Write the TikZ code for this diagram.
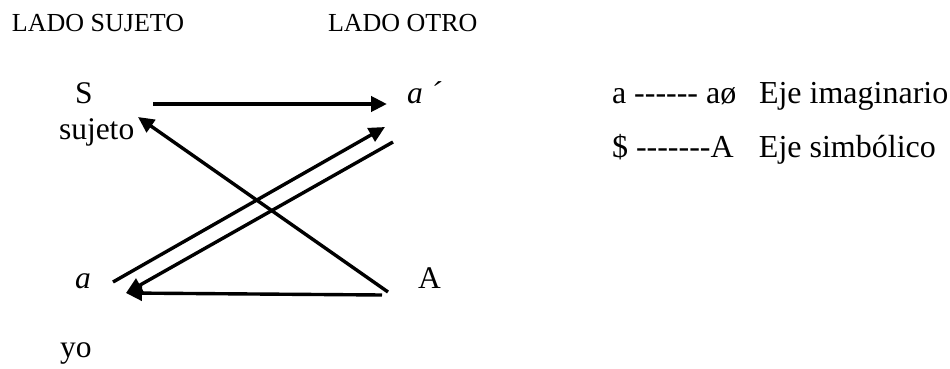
\documentclass[tikz,border=0pt]{standalone}
\usepackage{fontspec}
\setmainfont{Liberation Serif}
\usetikzlibrary{arrows.meta}
\tikzset{
  lbl/.style={anchor=base west, inner sep=0pt, outer sep=0pt, font=\fontsize{31.5}{36}\selectfont},
  hdr/.style={anchor=base west, inner sep=0pt, outer sep=0pt, font=\fontsize{26}{30}\selectfont},
  leg/.style={anchor=base west, inner sep=0pt, outer sep=0pt, font=\fontsize{32}{36}\selectfont},
  arr/.style={line width=3.4pt, -{Triangle[length=16pt,width=15pt]}},
  ln/.style={line width=3.4pt}
}
\begin{document}
\begin{tikzpicture}[x=1pt,y=-1pt]
\useasboundingbox (0,0) rectangle (950,369);
% headers
\node[hdr] (hs) at (12,31.5) {LADO SUJETO};
\node[hdr] (ho) at (328,31.5) {LADO OTRO};
% labels
\node[lbl] (S) at (75,103) {S};
\node[lbl] (suj) at (59,139) {sujeto};
\node[lbl] (ap) at (407,103) {\itshape a ´};
\node[lbl] (a) at (75,288) {\itshape a};
\node[lbl] (A) at (418,288) {A};
\node[lbl] (yo) at (60,357) {yo};
% legend
\node[leg] (l1) at (612,103) {\makebox[147pt][l]{a -{}-{}-{}-{}-{}- aø}Eje imaginario};
\node[leg] (l2) at (612,157) {\makebox[147pt][l]{\$ -{}-{}-{}-{}-{}-{}-A}Eje simbólico};
% connector end points
\coordinate (sOut) at (153,104);
\coordinate (apIn) at (387,104);
\coordinate (Acorner) at (388,292);
\coordinate (sujIn) at (138,117);
\coordinate (aOut) at (113,282);
\coordinate (apIn2) at (385,127);
\coordinate (apOut) at (393,142);
\coordinate (aIn) at (126,293);
\coordinate (AOut) at (382,295);
% connectors
\draw[arr, line width=4pt] (sOut) -- (apIn);
\draw[arr] (Acorner) -- (sujIn);
\draw[arr] (aOut) -- (apIn2);
\draw[arr] (apOut) -- (aIn);
\draw[arr] (AOut) -- (aIn);
\end{tikzpicture}
\end{document}
